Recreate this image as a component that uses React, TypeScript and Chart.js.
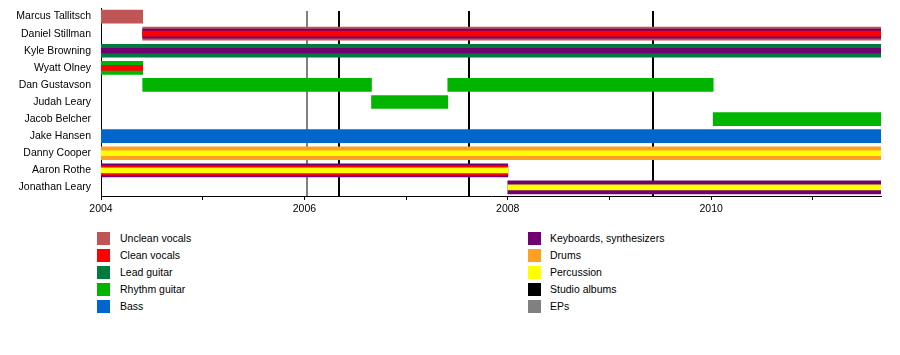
import React, { useEffect, useRef } from "react";
import { Chart, registerables } from "chart.js";

Chart.register(...registerables);

const members = [
  "Marcus Tallitsch",
  "Daniel Stillman",
  "Kyle Browning",
  "Wyatt Olney",
  "Dan Gustavson",
  "Judah Leary",
  "Jacob Belcher",
  "Jake Hansen",
  "Danny Cooper",
  "Aaron Rothe",
  "Jonathan Leary",
];

const roles = [
  "Unclean vocals",
  "Clean vocals",
  "Lead guitar",
  "Rhythm guitar",
  "Bass",
  "Keyboards, synthesizers",
  "Drums",
  "Percussion",
  "Studio albums",
  "EPs",
];

const roleColors = [
  "#c05555",
  "#ff0000",
  "#007a3d",
  "#00b400",
  "#0066cc",
  "#730073",
  "#ffa020",
  "#ffff00",
  "#000000",
  "#808080",
];

const timelineStart = 2004;
const timelineEnd = 2011.67;

// member, start, end, outer role, middle role, inner role
const segments: [string, number, number, string, string | null, string | null][] = [
  ["Marcus Tallitsch", 2004, 2004.41, "Unclean vocals", null, null],
  ["Daniel Stillman", 2004.41, timelineEnd, "Unclean vocals", "Keyboards, synthesizers", "Clean vocals"],
  ["Kyle Browning", 2004, timelineEnd, "Lead guitar", null, "Keyboards, synthesizers"],
  ["Wyatt Olney", 2004, 2004.41, "Rhythm guitar", null, "Clean vocals"],
  ["Dan Gustavson", 2004.41, 2006.66, "Rhythm guitar", null, null],
  ["Dan Gustavson", 2007.41, 2010.02, "Rhythm guitar", null, null],
  ["Judah Leary", 2006.66, 2007.41, "Rhythm guitar", null, null],
  ["Jacob Belcher", 2010.02, timelineEnd, "Rhythm guitar", null, null],
  ["Jake Hansen", 2004, timelineEnd, "Bass", null, null],
  ["Danny Cooper", 2004, timelineEnd, "Drums", null, "Percussion"],
  ["Aaron Rothe", 2004, 2008, "Keyboards, synthesizers", "Clean vocals", "Percussion"],
  ["Jonathan Leary", 2008, timelineEnd, "Keyboards, synthesizers", null, "Percussion"],
];

const studioAlbums = [2006.34, 2007.62, 2009.43];
const eps = [2006.03];

const FONT = "'Liberation Sans', Arial, Helvetica, sans-serif";

const colorOf = (role: string) => roleColors[roles.indexOf(role)];

function layerDataset(layer: number, thickness: number, order: number) {
  const rows = segments.filter((s) => s[3 + layer] !== null);
  return {
    type: "bar" as const,
    data: rows.map((s) => ({ x: [s[1], s[2]], y: s[0] })),
    backgroundColor: rows.map((s) => colorOf(s[3 + layer] as string)),
    barThickness: thickness,
    grouped: false,
    borderWidth: 0,
    borderSkipped: false,
    order,
  };
}

const markerPlugin = {
  id: "markers",
  beforeDatasetsDraw(chart: any) {
    const { ctx, chartArea, scales } = chart;
    const xs = scales.x;
    const draw = (vals: number[], color: string) => {
      vals.forEach((v) => {
        const px = Math.round(xs.getPixelForValue(v));
        ctx.save();
        ctx.strokeStyle = color;
        ctx.lineWidth = 2;
        ctx.beginPath();
        ctx.moveTo(px, chartArea.top + 3);
        ctx.lineTo(px, chartArea.bottom);
        ctx.stroke();
        ctx.restore();
      });
    };
    draw(eps, colorOf("EPs"));
    draw(studioAlbums, colorOf("Studio albums"));
  },
};

export default function App() {
  const ref = useRef<HTMLCanvasElement | null>(null);

  useEffect(() => {
    if (!ref.current) return;
    const chart = new Chart(ref.current, {
      type: "bar",
      data: {
        labels: members,
        datasets: [layerDataset(0, 13, 3), layerDataset(1, 9, 2), layerDataset(2, 5, 1)] as any,
      },
      plugins: [markerPlugin],
      options: {
        animation: false,
        responsive: false,
        devicePixelRatio: 1,
        indexAxis: "y",
        layout: { padding: { top: 8, right: 19, bottom: 0, left: 0 } },
        plugins: { legend: { display: false }, tooltip: { enabled: false } },
        scales: {
          x: {
            type: "linear",
            min: timelineStart,
            max: timelineEnd,
            grid: {
              display: true,
              drawOnChartArea: false,
              drawTicks: true,
              tickLength: 4,
              color: "#000",
            },
            border: { display: true, color: "#000", width: 1 },
            ticks: {
              stepSize: 1,
              includeBounds: false,
              autoSkip: false,
              maxRotation: 0,
              padding: 3,
              color: "#000",
              font: { family: FONT, size: 10.5 },
              callback: (v: any) => (Number(v) % 2 === 0 ? String(v) : ""),
            },
            afterFit: (scale: any) => {
              scale.height = 22;
            },
          },
          y: {
            type: "category",
            labels: members,
            offset: true,
            grid: { display: false, drawTicks: false },
            border: { display: true, color: "#000", width: 1 },
            ticks: {
              padding: 10,
              color: "#000",
              font: { family: FONT, size: 10.5 },
              autoSkip: false,
            },
            afterFit: (scale: any) => {
              scale.width = 101;
              scale.paddingTop = 0;
              scale.paddingBottom = 0;
            },
          },
        },
      } as any,
    });
    return () => chart.destroy();
  }, []);

  const legendItem = (i: number, left: number, row: number) => (
    <div
      key={roles[i]}
      style={{
        position: "absolute",
        left,
        top: 232 + row * 17,
        height: 13,
        display: "flex",
        alignItems: "center",
        whiteSpace: "nowrap",
      }}
    >
      <div style={{ width: 13, height: 13, background: roleColors[i] }} />
      <span
        style={{
          marginLeft: left < 300 ? 10 : 9,
          fontFamily: FONT,
          fontSize: 10.5,
          color: "#000",
          lineHeight: "13px",
        }}
      >
        {roles[i]}
      </span>
    </div>
  );

  return (
    <div
      style={{
        position: "absolute",
        left: 0,
        top: 0,
        width: 900,
        height: 355,
        background: "#fff",
        overflow: "hidden",
      }}
    >
      <canvas
        ref={ref}
        width={900}
        height={218}
        style={{ position: "absolute", left: 0, top: 0, width: 900, height: 218 }}
      />
      {roles.slice(0, 5).map((_, i) => legendItem(i, 97, i))}
      {roles.slice(5).map((_, i) => legendItem(i + 5, 528, i))}
    </div>
  );
}
